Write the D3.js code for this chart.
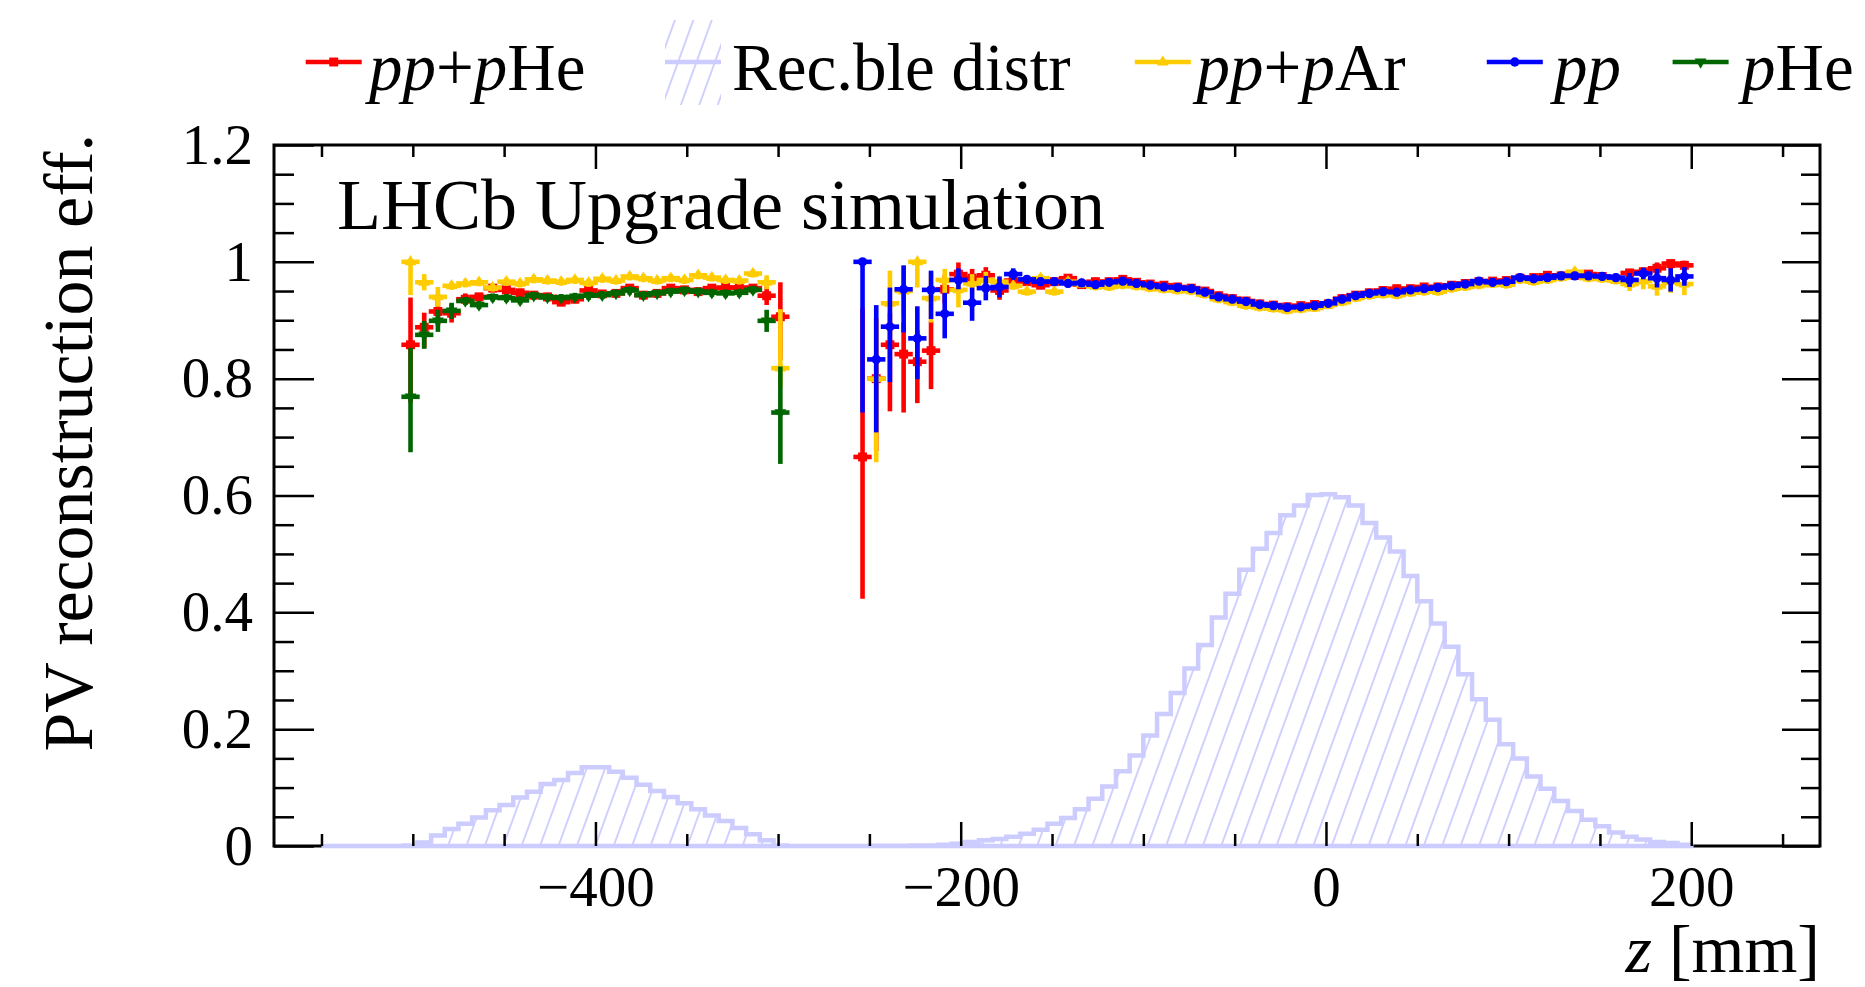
<!DOCTYPE html>
<html>
<head>
<meta charset="utf-8">
<script src="https://cdn.jsdelivr.net/npm/d3@7"></script>
<style>
  body { margin: 0; background: #fff; }
  svg text { font-family: "Liberation Serif", "Times New Roman", serif; fill: #000; }
</style>
</head>
<body>
<div id="chart"></div>
<script>
// histogram binning (z in mm)
const zLow = -550, binWidth = 7.5, nBins = 100;

// reconstructible PV distribution, one value per bin
const recDistr = [
  0, 0, 0, 0, 0, 0,
  0.001, 0.006, 0.018, 0.029, 0.038, 0.049, 0.061, 0.070, 0.083, 0.093,
  0.106, 0.113, 0.125, 0.135, 0.135, 0.127, 0.117, 0.105, 0.094, 0.084,
  0.073, 0.063, 0.052, 0.043, 0.031, 0.020, 0.010, 0.001, 0, 0,
  0, 0, 0, 0.0002, 0.0003, 0.0004, 0.0005, 0.0008, 0.001, 0.002,
  0.004, 0.007, 0.010, 0.012, 0.016, 0.021, 0.028, 0.038, 0.048, 0.063,
  0.081, 0.102, 0.128, 0.155, 0.189, 0.226, 0.262, 0.304, 0.344, 0.391,
  0.432, 0.473, 0.509, 0.536, 0.566, 0.583, 0.601, 0.602, 0.597, 0.583,
  0.553, 0.528, 0.504, 0.462, 0.419, 0.381, 0.341, 0.294, 0.251, 0.216,
  0.174, 0.150, 0.119, 0.098, 0.077, 0.060, 0.045, 0.034, 0.023, 0.016,
  0.011, 0.007, 0.005, 0.002
];

// efficiencies: left block starts at bin 6, right block at bin 39
const leftFirstBin = 6, rightFirstBin = 39;

const ppHeLeft = [0.858, 0.888, 0.915, 0.912, 0.936, 0.940, 0.955, 0.952, 0.947, 0.943,
  0.940, 0.931, 0.936, 0.951, 0.945, 0.946, 0.955, 0.943, 0.946, 0.955,
  0.952, 0.949, 0.955, 0.956, 0.956, 0.955, 0.942, 0.906];
const ppHeRight = [0.666, 0.800, 0.858, 0.842, 0.829, 0.848, 0.953, 0.979, 0.972, 0.977,
  0.951, 0.968, 0.966, 0.960, 0.966, 0.972, 0.961, 0.966, 0.966, 0.970,
  0.965, 0.962, 0.960, 0.957, 0.955, 0.950, 0.942, 0.937, 0.933, 0.928,
  0.926, 0.923, 0.925, 0.927, 0.928, 0.937, 0.943, 0.947, 0.951, 0.954,
  0.954, 0.957, 0.957, 0.960, 0.963, 0.966, 0.967, 0.968, 0.972, 0.973,
  0.977, 0.976, 0.977, 0.979, 0.975, 0.970, 0.981, 0.983, 0.989, 0.997,
  0.994];

const ppArLeft = [1.000, 0.965, 0.940, 0.959, 0.963, 0.965, 0.956, 0.966, 0.963, 0.970,
  0.968, 0.966, 0.969, 0.964, 0.971, 0.968, 0.975, 0.972, 0.968, 0.972,
  0.969, 0.977, 0.973, 0.969, 0.968, 0.980, 0.965, 0.818];
const ppArRight = [null, 0.800, 0.929, 0.950, 1.000, 0.938, 0.969, 0.952, 0.963, 0.969,
  0.966, 0.959, 0.949, 0.972, 0.949, 0.966, 0.962, 0.958, 0.957, 0.960,
  0.958, 0.955, 0.953, 0.951, 0.950, 0.944, 0.936, 0.931, 0.925, 0.922,
  0.920, 0.917, 0.919, 0.921, 0.926, 0.931, 0.938, 0.942, 0.944, 0.943,
  0.947, 0.949, 0.949, 0.954, 0.957, 0.960, 0.962, 0.961, 0.969, 0.966,
  0.969, 0.973, 0.983, 0.972, 0.971, 0.968, 0.962, 0.967, 0.958, 0.966,
  0.962];

const ppRight = [1.000, 0.833, 0.889, 0.953, 0.869, 0.952, 0.911, 0.969, 0.930, 0.955,
  0.957, 0.979, 0.970, 0.966, 0.966, 0.963, 0.964, 0.961, 0.965, 0.967,
  0.963, 0.960, 0.957, 0.956, 0.954, 0.948, 0.940, 0.936, 0.932, 0.927,
  0.925, 0.922, 0.923, 0.925, 0.929, 0.936, 0.942, 0.946, 0.949, 0.948,
  0.952, 0.954, 0.956, 0.959, 0.962, 0.967, 0.965, 0.966, 0.973, 0.971,
  0.973, 0.976, 0.976, 0.976, 0.975, 0.973, 0.969, 0.980, 0.972, 0.969,
  0.975];

const pHeLeft = [0.769, 0.875, 0.899, 0.916, 0.933, 0.926, 0.939, 0.938, 0.934, 0.942,
  0.939, 0.938, 0.940, 0.942, 0.943, 0.946, 0.951, 0.943, 0.946, 0.949,
  0.951, 0.949, 0.947, 0.946, 0.947, 0.952, 0.899, 0.742];

// asymmetric errors [low, high] where they are bigger than the marker, keyed by bin
const defaultErr = [0.003, 0.003];
const ppHeErr = {6: [0.095, 0.077], 7: [0.031, 0.021], 8: [0.02, 0.02], 9: [0.012, 0.012],
  10: [0.006, 0.006], 32: [0.012, 0.012], 33: [0.07, 0.055], 39: [0.239, 0.25],
  40: [0.12, 0.1], 41: [0.11, 0.05], 42: [0.096, 0.05], 43: [0.067, 0.05], 44: [0.062, 0.047],
  45: [0.02, 0.02], 46: [0.015, 0.016], 47: [0.012, 0.012], 48: [0.01, 0.01], 49: [0.012, 0.012],
  97: [0.006, 0.006], 98: [0.006, 0.003], 99: [0.006, 0.004]};
const ppArErr = {6: [0.053, 0], 7: [0.01, 0.01], 8: [0.013, 0.013], 32: [0.008, 0.008],
  33: [0.03, 0.097], 40: [0.139, 0.1], 41: [0.05, 0.052], 42: [0.04, 0.04], 43: [0.04, 0],
  44: [0.038, 0.04], 45: [0.02, 0.015], 46: [0.026, 0.02], 47: [0.012, 0.012], 48: [0.01, 0.01],
  95: [0.008, 0.008], 96: [0.01, 0.01], 97: [0.012, 0.012], 98: [0.015, 0.015], 99: [0.015, 0.015]};
const ppErr = {39: [0.254, 0], 40: [0.121, 0.089], 41: [0.091, 0.063], 42: [0.07, 0.037],
  43: [0.066, 0.051], 44: [0.046, 0.029], 45: [0.038, 0.032], 46: [0.012, 0.016],
  47: [0.027, 0.022], 48: [0.017, 0.017], 49: [0.014, 0.014], 50: [0.006, 0.006],
  95: [0.008, 0.008], 96: [0.006, 0.006], 97: [0.012, 0.012], 98: [0.016, 0.016], 99: [0.012, 0.012]};
const pHeErr = {6: [0.091, 0.08], 7: [0.02, 0.02], 8: [0.015, 0.015], 9: [0.01, 0.01],
  32: [0.015, 0.015], 33: [0.084, 0.075]};

// axis ticks
const xMajor = [-400, -200, 0, 200];
const xMinor = [-550, -500, -450, -350, -300, -250, -150, -100, -50, 50, 100, 150, 250];
const yMajor = [0, 0.2, 0.4, 0.6, 0.8, 1, 1.2];
const yMinor = [0.05, 0.1, 0.15, 0.25, 0.3, 0.35, 0.45, 0.5, 0.55, 0.65, 0.7, 0.75,
  0.85, 0.9, 0.95, 1.05, 1.1, 1.15];

const RED = "#ff0000", YELLOW = "#ffcc00", BLUE = "#0000ff", GREEN = "#006600", LAV = "#ccccff";

const W = 1865, H = 987;
const svg = d3.select("#chart").append("svg").attr("width", W).attr("height", H);
svg.append("rect").attr("width", W).attr("height", H).attr("fill", "#fff");

const x = d3.scaleLinear().domain([-576, 270.5]).range([274, 1820]);
const y = d3.scaleLinear().domain([0, 1.2]).range([846, 145]);

// hatch pattern for the histogram
const defs = svg.append("defs");
const hatch = defs.append("pattern")
    .attr("id", "hatch")
    .attr("patternUnits", "userSpaceOnUse")
    .attr("width", 17.3).attr("height", 20)
    .attr("patternTransform", "rotate(20)");
hatch.append("line")
    .attr("x1", 1).attr("x2", 1).attr("y1", -2).attr("y2", 22)
    .attr("stroke", LAV).attr("stroke-width", 1.8);

// frame
svg.append("rect")
    .attr("x", x.range()[0]).attr("y", y.range()[1])
    .attr("width", x.range()[1] - x.range()[0])
    .attr("height", y.range()[0] - y.range()[1])
    .attr("fill", "none").attr("stroke", "#000").attr("stroke-width", 3);

// histogram
const edges = d3.range(nBins + 1).map(i => zLow + i * binWidth);
let histPts = [[edges[0], 0]];
recDistr.forEach((v, i) => { histPts.push([edges[i], v], [edges[i + 1], v]); });
histPts.push([edges[nBins], 0]);
const histLine = d3.line().x(d => x(d[0])).y(d => y(d[1]));
svg.append("path")
    .attr("d", histLine(histPts) + "Z")
    .attr("fill", "url(#hatch)")
    .attr("stroke", LAV)
    .attr("stroke-width", 4.5)
    .attr("stroke-linejoin", "miter");

// axes (ticks point inwards, like ROOT)
function styleAxis(g) {
    g.select(".domain").remove();
    g.selectAll(".tick line").attr("stroke", "#000").attr("stroke-width", 2.5);
    g.selectAll("text").attr("font-size", 57).attr("font-family", "Liberation Serif");
    g.attr("font-family", null).attr("font-size", null);
}

svg.append("g").attr("transform", `translate(0,${y(0)})`)
    .call(d3.axisBottom(x).tickValues(xMajor).tickSizeInner(-24).tickSizeOuter(0)
        .tickPadding(19.5).tickFormat(d3.format("d")))
    .call(styleAxis);
svg.append("g").attr("transform", `translate(0,${y(0)})`)
    .call(d3.axisBottom(x).tickValues(xMinor).tickSizeInner(-12).tickSizeOuter(0).tickFormat(""))
    .call(styleAxis);
svg.append("g").attr("transform", `translate(0,${y(1.2)})`)
    .call(d3.axisTop(x).tickValues(xMajor).tickSizeInner(-24).tickSizeOuter(0).tickFormat(""))
    .call(styleAxis);
svg.append("g").attr("transform", `translate(0,${y(1.2)})`)
    .call(d3.axisTop(x).tickValues(xMinor).tickSizeInner(-12).tickSizeOuter(0).tickFormat(""))
    .call(styleAxis);

svg.append("g").attr("transform", `translate(${x.range()[0]},0)`)
    .call(d3.axisLeft(y).tickValues(yMajor).tickSizeInner(-40).tickSizeOuter(0)
        .tickPadding(21).tickFormat(d3.format("~g")))
    .call(styleAxis);
svg.append("g").attr("transform", `translate(${x.range()[0]},0)`)
    .call(d3.axisLeft(y).tickValues(yMinor).tickSizeInner(-20).tickSizeOuter(0).tickFormat(""))
    .call(styleAxis);
svg.append("g").attr("transform", `translate(${x.range()[1]},0)`)
    .call(d3.axisRight(y).tickValues(yMajor).tickSizeInner(-38).tickSizeOuter(0).tickFormat(""))
    .call(styleAxis);
svg.append("g").attr("transform", `translate(${x.range()[1]},0)`)
    .call(d3.axisRight(y).tickValues(yMinor).tickSizeInner(-19).tickSizeOuter(0).tickFormat(""))
    .call(styleAxis);

// efficiency graphs
function toPoints(first, vals, errs) {
    return vals.map((v, i) => {
        const k = first + i;
        const e = errs[k] || defaultErr;
        return {k: k, z: edges[k] + binWidth / 2, v: v, lo: e[0], hi: e[1]};
    }).filter(d => d.v != null);
}

const series = [
    {color: RED, marker: d3.symbolSquare, size: 80, rot: 0,
     pts: toPoints(leftFirstBin, ppHeLeft, ppHeErr).concat(toPoints(rightFirstBin, ppHeRight, ppHeErr))},
    {color: YELLOW, marker: d3.symbolTriangle, size: 60, rot: 0,
     pts: toPoints(leftFirstBin, ppArLeft, ppArErr).concat(toPoints(rightFirstBin, ppArRight, ppArErr))},
    {color: BLUE, marker: d3.symbolCircle, size: 68, rot: 0,
     pts: toPoints(rightFirstBin, ppRight, ppErr)},
    {color: GREEN, marker: d3.symbolTriangle, size: 60, rot: 180,
     pts: toPoints(leftFirstBin, pHeLeft, pHeErr)}
];

series.forEach(s => {
    const g = svg.append("g");
    g.selectAll(".xerr").data(s.pts).enter().append("line")
        .attr("x1", d => x(d.z - binWidth / 2)).attr("x2", d => x(d.z + binWidth / 2))
        .attr("y1", d => y(d.v)).attr("y2", d => y(d.v))
        .attr("stroke", s.color).attr("stroke-width", 4.6).attr("stroke-linecap", "square");
    g.selectAll(".yerr").data(s.pts).enter().append("line")
        .attr("x1", d => x(d.z)).attr("x2", d => x(d.z))
        .attr("y1", d => y(d.v - d.lo)).attr("y2", d => y(d.v + d.hi))
        .attr("stroke", s.color).attr("stroke-width", 4.6).attr("stroke-linecap", "square");
    g.selectAll(".mk").data(s.pts).enter().append("path")
        .attr("d", d3.symbol().type(s.marker).size(s.size))
        .attr("transform", d => `translate(${x(d.z)},${y(d.v)}) rotate(${s.rot})`)
        .attr("fill", s.color);
});

// legend
const legendLabels = [
    [["pp", true], ["+", false], ["p", true], ["He", false]],
    [["Rec.ble distr", false]],
    [["pp", true], ["+", false], ["p", true], ["Ar", false]],
    [["pp", true]],
    [["p", true], ["He", false]]
];
const legendColors = [RED, LAV, YELLOW, BLUE, GREEN];
const legendSeries = [0, null, 1, 2, 3];
const legendX = [305.7, 665, 1134.8, 1486.8, 1672.6];
const legendTextX = [369, 732, 1196.6, 1554, 1742];
const legY = 62;

legendLabels.forEach((lab, i) => {
    const g = svg.append("g");
    if (i === 1) {
        g.append("rect").attr("x", legendX[i]).attr("y", 20).attr("width", 56).attr("height", 85)
            .attr("fill", "url(#hatch)");
    }
    g.append("line")
        .attr("x1", legendX[i]).attr("x2", legendX[i] + 56)
        .attr("y1", legY).attr("y2", legY)
        .attr("stroke", legendColors[i]).attr("stroke-width", 4.6);
    const si = legendSeries[i];
    if (si !== null) {
        const s = series[si];
        g.append("path")
            .attr("d", d3.symbol().type(s.marker).size(s.size))
            .attr("transform", `translate(${legendX[i] + 28},${legY}) rotate(${s.rot})`)
            .attr("fill", legendColors[i]);
    }
    const t = g.append("text").attr("x", legendTextX[i]).attr("y", 90).attr("font-size", 67);
    lab.forEach(p => t.append("tspan").attr("font-style", p[1] ? "italic" : "normal").text(p[0]));
});

// labels
svg.append("text").attr("x", 337).attr("y", 229).attr("font-size", 72)
    .text("LHCb Upgrade simulation");

svg.append("text")
    .attr("transform", "translate(92,134) rotate(-90)")
    .attr("text-anchor", "end").attr("font-size", 70)
    .text("PV reconstruction eff.");

const xt = svg.append("text").attr("x", 1820).attr("y", 972)
    .attr("text-anchor", "end").attr("font-size", 68);
xt.append("tspan").attr("font-style", "italic").text("z");
xt.append("tspan").text(" [mm]");
</script>
</body>
</html>
